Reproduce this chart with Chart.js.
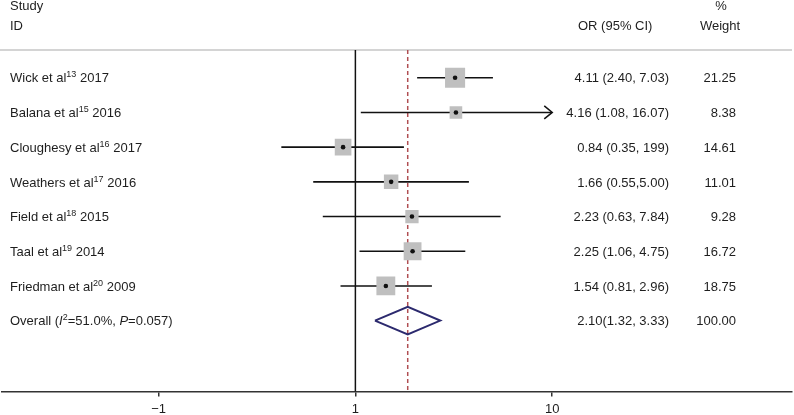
<!DOCTYPE html>
<html>
<head>
<meta charset="utf-8">
<script src="https://cdn.jsdelivr.net/npm/chart.js@4.4.0/dist/chart.umd.min.js"></script>
<style>
  body { margin: 0; background: #fff; }
  #wrap { width: 794px; height: 415px; }
</style>
</head>
<body>
<div id="wrap"><canvas id="forest" width="794" height="415"></canvas></div>
<script>
const studies = ['Wick et al', 'Balana et al', 'Cloughesy et al', 'Weathers et al', 'Field et al', 'Taal et al', 'Friedman et al']
const refs = ['13', '15', '16', '17', '18', '19', '20']
const years = ['2017', '2016', '2017', '2016', '2015', '2014', '2009']
const oddsRatio = [4.11, 4.16, 0.84, 1.66, 2.23, 2.25, 1.54]
const ciLow = [2.40, 1.08, 0.35, 0.55, 0.63, 1.06, 0.81]
const ciHigh = [7.03, 16.07, 1.99, 5.00, 7.84, 4.75, 2.96]
const weights = [21.25, 8.38, 14.61, 11.01, 9.28, 16.72, 18.75]
const ciText = ['4.11 (2.40, 7.03)', '4.16 (1.08, 16.07)', '0.84 (0.35, 199)', '1.66 (0.55,5.00)', '2.23 (0.63, 7.84)', '2.25 (1.06, 4.75)', '1.54 (0.81, 2.96)']

const overallOR = 2.10
const overallLow = 1.32
const overallHigh = 3.33
const overallWeight = 100.00
const overallText = '2.10(1.32, 3.33)'
const overallI2 = '51.0%'
const overallP = '0.057'

// axis ticks sit on the ln(OR) scale
const tickValues = [-2.79, 0, 2.79]
const tickLabels = ['\u22121', '1', '10']

const arrowAbove = 15
const font = '"Liberation Sans", Arial, sans-serif'
const yTop = -0.8
const yBottom = 9.04
const overallRow = studies.length

const ln = v => Math.log(v)

const ciSets = studies.map((s, i) => ({
  data: [{ x: ln(ciLow[i]), y: i }, { x: ln(ciHigh[i]), y: i }],
  showLine: true,
  borderColor: '#111',
  borderWidth: 1.6,
  pointRadius: 0,
  order: 3
}))

function drawRich(ctx, parts, x, y) {
  parts.forEach(p => {
    ctx.font = (p.it ? 'italic ' : '') + (p.sup ? '9px ' : '13px ') + font
    ctx.fillText(p.t, x, p.sup ? y - 5 : y)
    x += ctx.measureText(p.t).width
  })
}

const textColumns = {
  id: 'textColumns',
  beforeDatasetsDraw(chart) {
    const ctx = chart.ctx
    const area = chart.chartArea
    ctx.save()
    ctx.strokeStyle = '#d4d4d4'
    ctx.lineWidth = 2
    ctx.beginPath()
    ctx.moveTo(0, area.top)
    ctx.lineTo(area.right, area.top)
    ctx.stroke()
    ctx.restore()
  },
  afterDraw(chart) {
    const ctx = chart.ctx
    const y = chart.scales.y
    const x = chart.scales.x
    ctx.save()
    ctx.fillStyle = '#1e1e1e'
    ctx.font = '13px ' + font
    ctx.textBaseline = 'alphabetic'
    ctx.textAlign = 'left'
    ctx.fillText('Study', 10, 10)
    ctx.fillText('ID', 10, 29.5)
    ctx.fillText('OR (95% CI)', 578, 29.5)
    ctx.textAlign = 'center'
    ctx.fillText('%', 721, 10)
    ctx.fillText('Weight', 720, 29.5)

    studies.forEach((s, i) => {
      const py = y.getPixelForValue(i) + 4.7
      ctx.textAlign = 'left'
      drawRich(ctx, [{ t: s }, { t: refs[i], sup: true }, { t: ' ' + years[i] }], 10, py)
      ctx.font = '13px ' + font
      ctx.textAlign = 'right'
      ctx.fillText(ciText[i], 669, py)
      ctx.fillText(weights[i].toFixed(2), 736, py)
    })

    const oy = y.getPixelForValue(overallRow) + 4.7
    ctx.textAlign = 'left'
    drawRich(ctx, [{ t: 'Overall (' }, { t: 'I', it: true }, { t: '2', sup: true }, { t: '=' + overallI2 + ', ' }, { t: 'P', it: true }, { t: '=' + overallP + ')' }], 10, oy)
    ctx.font = '13px ' + font
    ctx.textAlign = 'right'
    ctx.fillText(overallText, 669, oy)
    ctx.fillText(overallWeight.toFixed(2), 736, oy)

    // arrow heads where the CI runs past the plotted range
    ctx.strokeStyle = '#111'
    ctx.lineWidth = 1.5
    ciHigh.forEach((h, i) => {
      if (h < arrowAbove) return
      const tx = x.getPixelForValue(ln(h)) + 1
      const ty = y.getPixelForValue(i)
      ctx.beginPath()
      ctx.moveTo(tx - 8, ty - 6.5)
      ctx.lineTo(tx, ty)
      ctx.lineTo(tx - 8, ty + 6.5)
      ctx.stroke()
    })
    ctx.restore()
  }
}

const grafico = new Chart(document.getElementById('forest'), {
  type: 'scatter',
  data: {
    datasets: [
      {
        data: studies.map((s, i) => ({ x: ln(oddsRatio[i]), y: i })),
        pointStyle: 'circle',
        pointRadius: 2.3,
        backgroundColor: '#111',
        borderWidth: 0,
        order: 0
      },
      {
        data: studies.map((s, i) => ({ x: ln(oddsRatio[i]), y: i })),
        pointStyle: 'rect',
        pointRadius: weights.map(w => 3.08 * Math.sqrt(w)),
        backgroundColor: '#bfbfbf',
        borderWidth: 0,
        order: 1
      },
      {
        data: [
          { x: ln(overallLow), y: overallRow },
          { x: ln(overallOR), y: overallRow - 0.4 },
          { x: ln(overallHigh), y: overallRow },
          { x: ln(overallOR), y: overallRow + 0.4 },
          { x: ln(overallLow), y: overallRow }
        ],
        showLine: true,
        borderColor: '#2c2a6e',
        borderWidth: 2,
        borderJoinStyle: 'miter',
        pointRadius: 0,
        order: 2
      },
      ...ciSets,
      {
        data: [{ x: ln(overallOR), y: yTop }, { x: ln(overallOR), y: yBottom }],
        showLine: true,
        borderColor: '#b04e52',
        borderWidth: 1.5,
        borderDash: [4, 3],
        pointRadius: 0,
        order: 4
      },
      {
        data: [{ x: 0, y: yTop }, { x: 0, y: yBottom }],
        showLine: true,
        borderColor: '#111',
        borderWidth: 1.5,
        pointRadius: 0,
        order: 5
      }
    ]
  },
  options: {
    responsive: false,
    animation: false,
    events: [],
    layout: { autoPadding: false, padding: { top: 50, left: 2, right: 2, bottom: -7.4 } },
    plugins: { legend: { display: false }, tooltip: { enabled: false } },
    scales: {
      x: {
        type: 'linear',
        min: -5.01,
        max: 6.19,
        afterBuildTicks: scale => { scale.ticks = tickValues.map(v => ({ value: v })) },
        ticks: {
          callback: (v, i) => tickLabels[i],
          color: '#1e1e1e',
          padding: 0,
          maxRotation: 0,
          font: { family: font, size: 13, lineHeight: 2 }
        },
        grid: { drawOnChartArea: false, drawTicks: true, tickLength: 5, color: '#333', lineWidth: 1.5 },
        border: { display: true, color: '#333', width: 1.5 }
      },
      y: {
        type: 'linear',
        display: false,
        reverse: true,
        min: yTop,
        max: yBottom
      }
    }
  },
  plugins: [textColumns]
})
</script>
</body>
</html>
